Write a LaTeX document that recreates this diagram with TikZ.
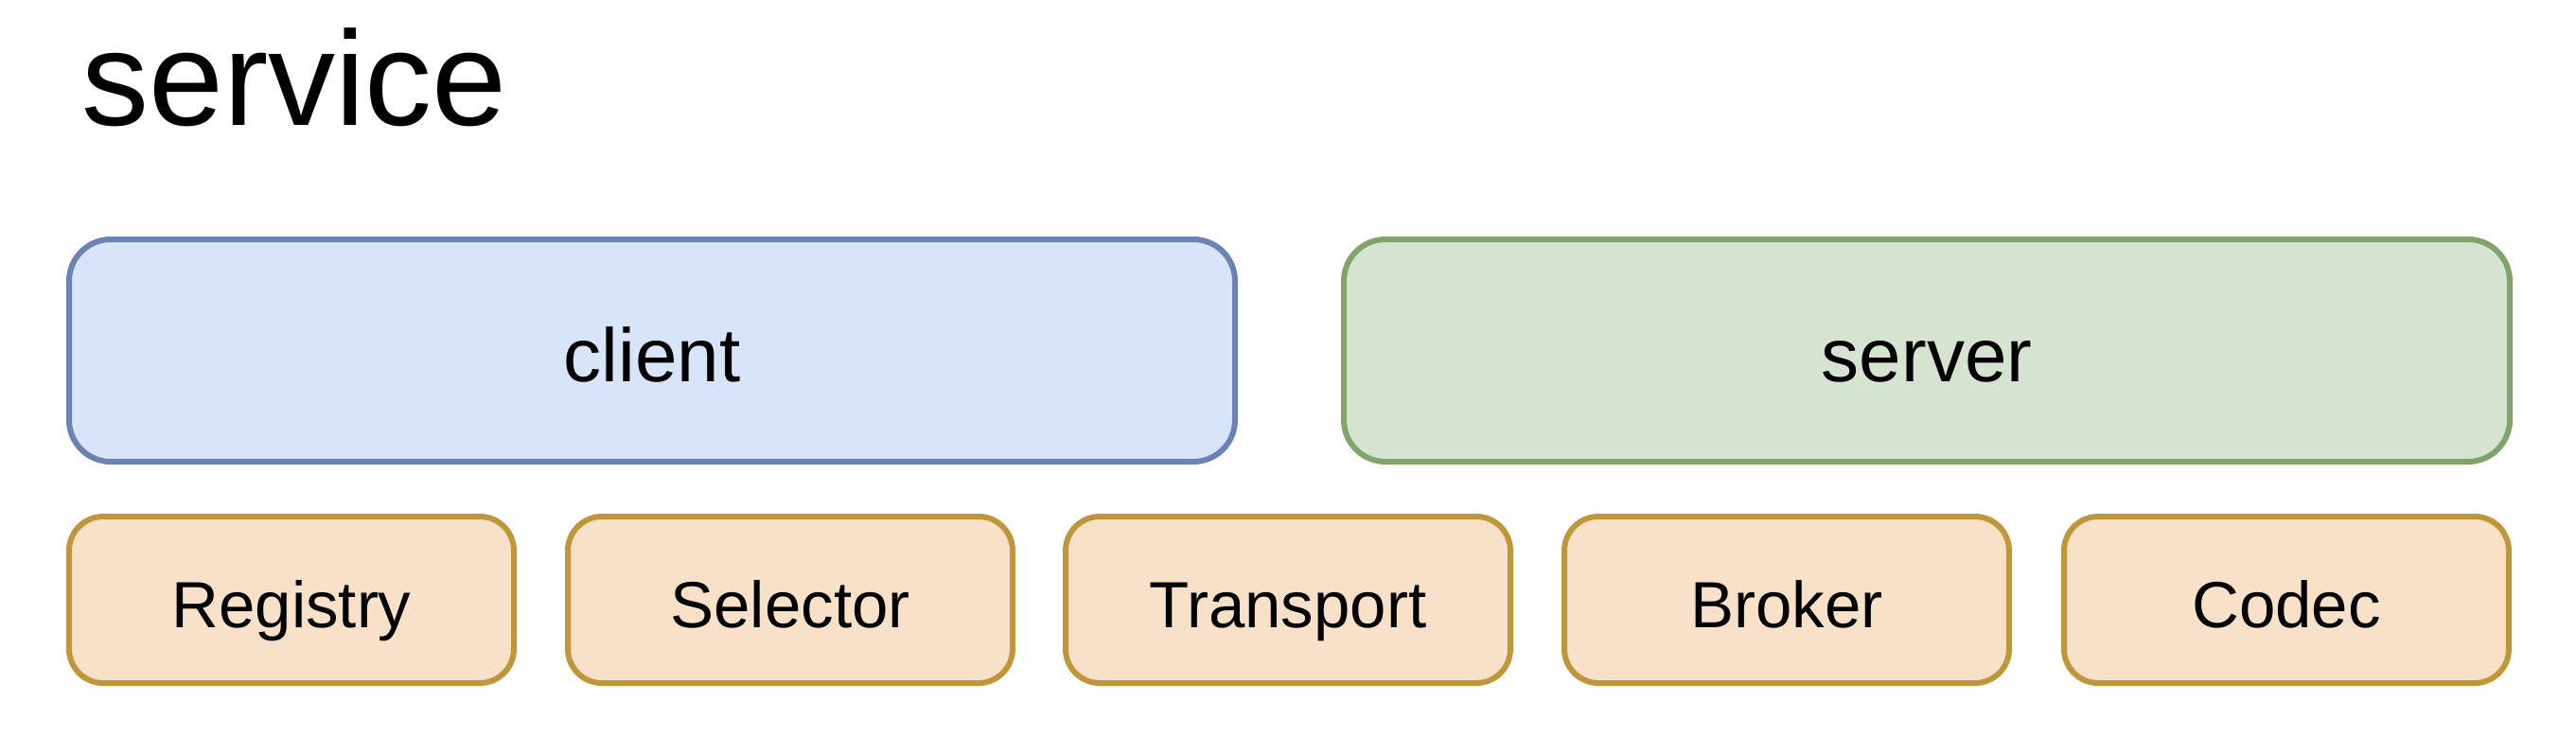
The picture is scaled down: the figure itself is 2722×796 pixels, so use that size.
\documentclass[tikz,border=0pt]{standalone}
\usepackage{fontspec}
\setmainfont{Liberation Sans}
\definecolor{cfill}{HTML}{D7E4FA}
\definecolor{cdraw}{HTML}{6A82B4}
\definecolor{sfill}{HTML}{D4E4D0}
\definecolor{sdraw}{HTML}{82A46C}
\definecolor{ofill}{HTML}{F9E0C8}
\definecolor{odraw}{HTML}{C0963A}
\begin{document}
\begin{tikzpicture}[x=1pt,y=-1pt,
  bigbox/.style={rounded corners=44pt,line width=6pt,minimum width=1232pt,minimum height=235pt,inner sep=0pt,text height=65pt,text depth=0pt,font=\fontsize{80}{80}\selectfont},
  smallbox/.style={rounded corners=36pt,line width=6pt,draw=odraw,fill=ofill,minimum width=470pt,minimum height=176pt,inner sep=0pt,text height=58pt,text depth=0pt,font=\fontsize{69}{69}\selectfont}]
\useasboundingbox (0,0) rectangle (2722,796);
\node[anchor=base west,inner sep=0pt,font=\fontsize{142}{142}\selectfont] (title) at (86,132) {service};
\node[bigbox,draw=cdraw,fill=cfill] (client) at (689,370.5) {client};
\node[bigbox,draw=sdraw,fill=sfill] (server) at (2036,370.5) {server};
\node[smallbox] (registry) at (308,634) {Registry};
\node[smallbox] (selector) at (835,634) {Selector};
\node[smallbox] (transport) at (1361,634) {Transport};
\node[smallbox] (broker) at (1888,634) {Broker};
\node[smallbox] (codec) at (2416,634) {Codec};
\end{tikzpicture}
\end{document}
